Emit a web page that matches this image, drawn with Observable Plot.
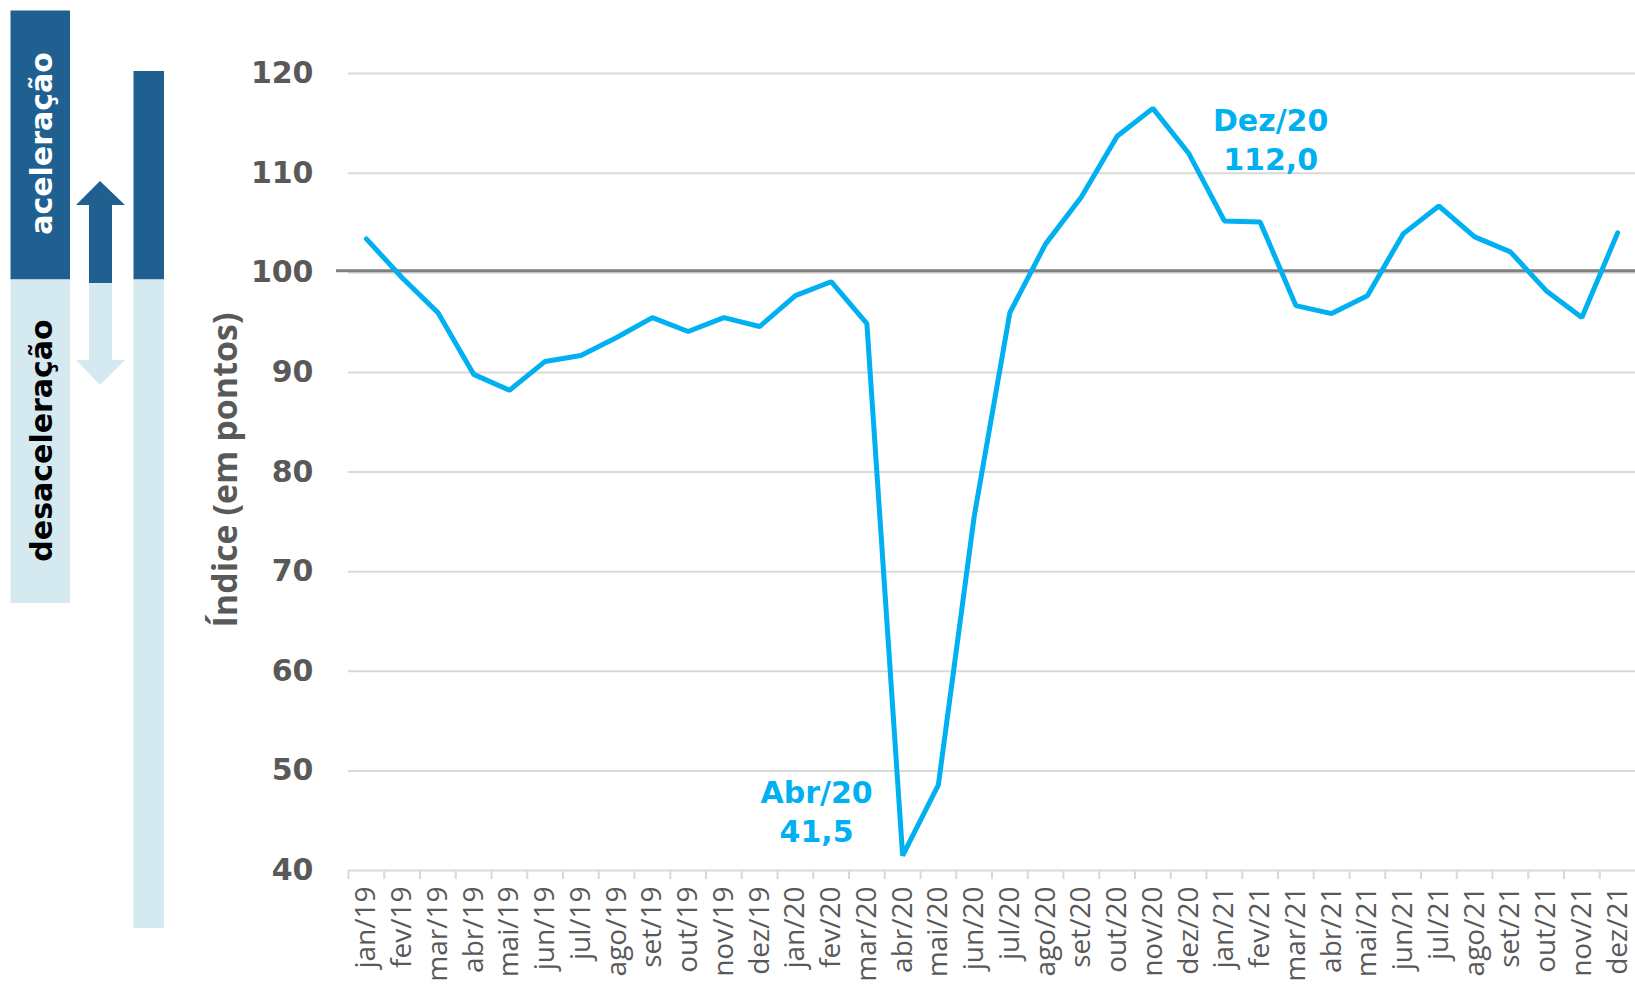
<!DOCTYPE html>
<html><head><meta charset="utf-8">
<script src="https://cdn.jsdelivr.net/npm/d3@7"></script>
<script src="https://cdn.jsdelivr.net/npm/@observablehq/plot@0.6"></script>
<style>
html,body{margin:0;padding:0;background:#fff;overflow:hidden;}
#wrap{position:relative;width:1635px;height:984px;}
#chart{position:absolute;left:0;top:0;}
#deco{position:absolute;left:0;top:0;}
</style></head><body>
<div id="wrap"><div id="chart"></div>
<svg id="deco" width="200" height="984" xmlns="http://www.w3.org/2000/svg"></svg></div>
<script>
// ---- data ----
const months = ["jan/19","fev/19","mar/19","abr/19","mai/19","jun/19","jul/19","ago/19","set/19","out/19","nov/19","dez/19",
  "jan/20","fev/20","mar/20","abr/20","mai/20","jun/20","jul/20","ago/20","set/20","out/20","nov/20","dez/20",
  "jan/21","fev/21","mar/21","abr/21","mai/21","jun/21","jul/21","ago/21","set/21","out/21","nov/21","dez/21"];
const values = [103.4,99.5,96.0,89.8,88.2,91.1,91.7,93.5,95.5,94.1,95.5,94.6,
  97.7,99.1,94.9,41.5,48.6,75.5,96.0,102.9,107.6,113.7,116.5,112.0,
  105.2,105.1,96.7,95.9,97.7,103.9,106.7,103.6,102.1,98.2,95.5,104.0];
const yTicks = [40,50,60,70,80,90,100,110,120];
const referenceLevel = [100];
const highlighted = ["abr/20","dez/20"];
const yTitle = "Índice (em pontos)";
const upLabel = "aceleração";
const downLabel = "desaceleração";

const data = months.map((m,i)=>({month:m, value:values[i]}));
const fmt = d => d.month.charAt(0).toUpperCase()+d.month.slice(1)+"\n"+d.value.toFixed(1).replace(".",",");
const notes = data.filter(d=>highlighted.includes(d.month));

const W=1635,H=984,ML=348,MR=0,MT=73,MB=114;
const step=(W-ML-MR)/months.length;
const blue="#00B0F0", gray="#595959";

const plot = Plot.plot({
  width:W, height:H, marginLeft:ML, marginRight:MR, marginTop:MT, marginBottom:MB,
  style:{background:"transparent", fontFamily:"Open Sans, sans-serif"},
  x:{type:"point", domain:months, padding:0.5, round:false, label:null},
  y:{domain:[40,120], label:null},
  marks:[
    Plot.gridY(yTicks,{stroke:"#d9d9d9", strokeOpacity:1, strokeWidth:2}),
    Plot.ruleY(referenceLevel,{stroke:"#808080", strokeWidth:3, dy:-2, insetLeft:-12}),
    Plot.axisX({ticks:months, tickSize:9, tickFormat:()=>"", stroke:"#d9d9d9", strokeWidth:2, strokeOpacity:1, dx:-step/2, label:null}),
    Plot.axisX({ticks:months, tickSize:0, tickPadding:16, tickRotate:-90, fontSize:28, color:gray, label:null, fontFamily:"Open Sans"}),
    Plot.axisY({ticks:yTicks, tickSize:0, tickPadding:35, fontSize:30, fontWeight:"bold", color:gray, fontFamily:"DejaVu Sans", label:null}),
    Plot.text([yTitle],{frameAnchor:"left", textAnchor:"middle", rotate:-90, dx:-122, dy:-2, fontSize:34, fontWeight:"bold", fill:gray, fontFamily:"Open Sans"}),
    Plot.lineY(data,{x:"month", y:"value", stroke:blue, strokeWidth:5, strokeLinejoin:"miter"}),
    Plot.text(notes.filter(d=>d.month==="dez/20"),{x:"month", y:"value", text:fmt, dx:82, dy:-15, lineHeight:1.3, fontSize:30, fontWeight:"bold", fill:blue, fontFamily:"DejaVu Sans"}),
    Plot.text(notes.filter(d=>d.month==="abr/20"),{x:"month", y:"value", text:fmt, dx:-86, dy:-46, lineHeight:1.3, fontSize:30, fontWeight:"bold", fill:blue, fontFamily:"DejaVu Sans"})
  ]
});
document.getElementById("chart").appendChild(plot);

// ---- decorative acceleration / deceleration legend ----
const dark="#1f6091", light="#d5e9f1";
const deco=d3.select("#deco");
deco.append("rect").attr("x",10.5).attr("y",10.5).attr("width",59.5).attr("height",269).attr("fill",dark);
deco.append("rect").attr("x",10.5).attr("y",279.5).attr("width",59.5).attr("height",323.5).attr("fill",light);
deco.append("rect").attr("x",133.5).attr("y",71).attr("width",30.5).attr("height",208.5).attr("fill",dark);
deco.append("rect").attr("x",133.5).attr("y",279.5).attr("width",30.5).attr("height",648.5).attr("fill",light);
deco.append("polygon").attr("points","100,181 125,205 112,205 112,283 89,283 89,205 76,205").attr("fill",dark);
deco.append("polygon").attr("points","89,283 112,283 112,360 125,360 100,385 76,360 89,360").attr("fill",light);
deco.append("text").attr("transform","translate(52,143.5) rotate(-90)").attr("text-anchor","middle")
  .attr("font-family","DejaVu Sans").attr("font-weight","bold").attr("font-size",30).attr("fill","#fff").text(upLabel);
deco.append("text").attr("transform","translate(52,440.5) rotate(-90)").attr("text-anchor","middle")
  .attr("font-family","DejaVu Sans").attr("font-weight","bold").attr("font-size",30).attr("fill","#000").text(downLabel);
</script></body></html>
